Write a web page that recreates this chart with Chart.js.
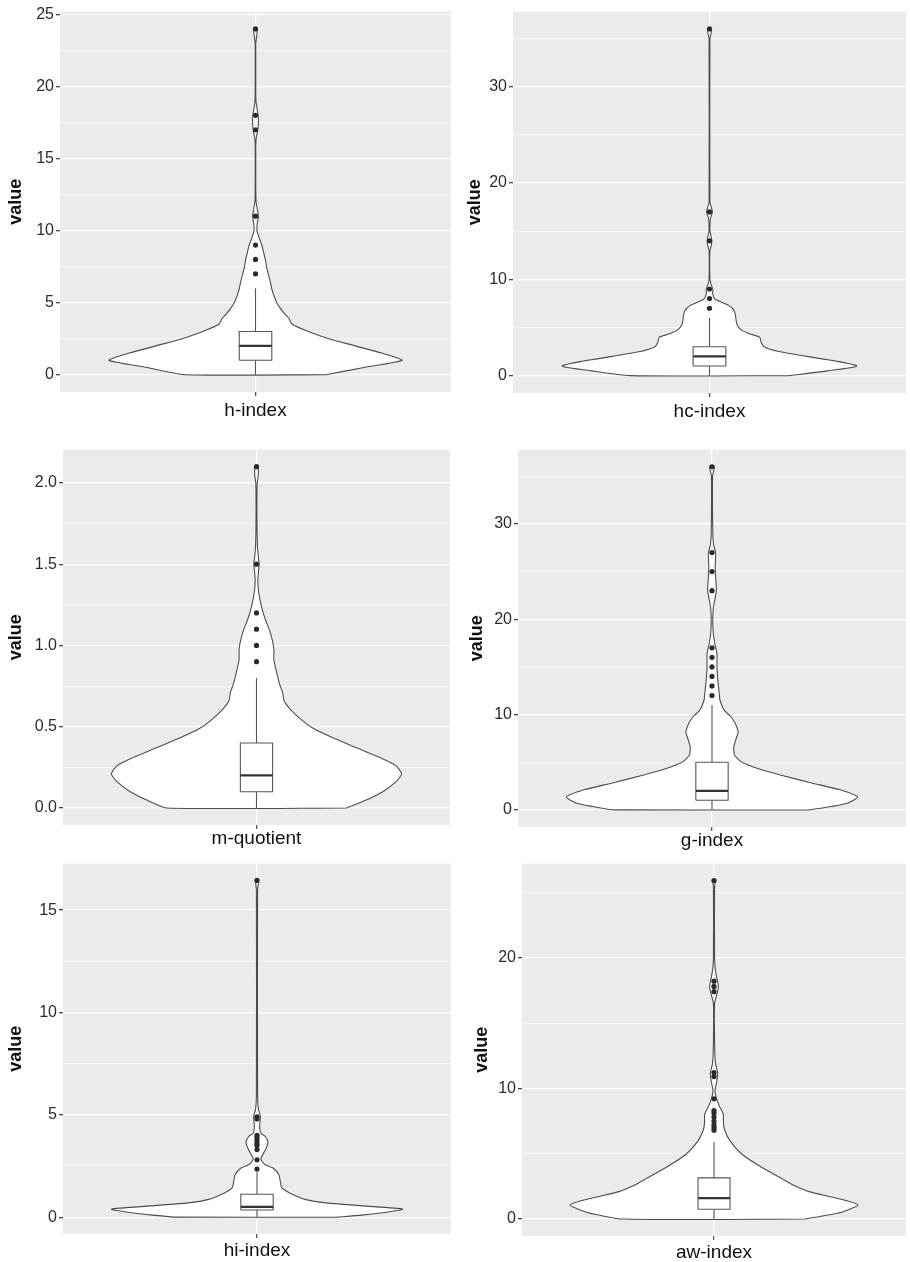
<!DOCTYPE html>
<html>
<head>
<meta charset="utf-8">
<script src="https://cdn.jsdelivr.net/npm/chart.js@4.4.1/dist/chart.umd.min.js"></script>
<style>
  html, body { margin: 0; padding: 0; background: #fff; }
  body { width: 910px; height: 1262px; position: relative; overflow: hidden; }
  canvas { position: absolute; }
</style>
</head>
<body>
<canvas id="c0"></canvas>
<canvas id="c1"></canvas>
<canvas id="c2"></canvas>
<canvas id="c3"></canvas>
<canvas id="c4"></canvas>
<canvas id="c5"></canvas>
<script>
const categories = ['h-index', 'hc-index', 'm-quotient', 'g-index', 'hi-index', 'aw-index'];

// violin outline: value and relative half width (1 = widest)
const hIndexY = [0, 0.5, 1.0, 1.5, 2.0, 2.5, 3.0, 3.5, 3.9, 4.2, 4.6, 5.0, 5.5, 6.0, 6.5, 7.0, 7.5, 8.0, 8.5, 9.0, 9.5, 10.0, 10.5, 11.0, 11.5, 12.0, 13, 14, 15, 16, 16.5, 17.0, 17.5, 18.0, 18.5, 19.0, 20, 21, 22, 23, 23.5, 24];
const hIndexW = [0.48, 0.74, 1.0, 0.86, 0.68, 0.5, 0.36, 0.25, 0.228, 0.2, 0.17, 0.145, 0.125, 0.11, 0.1, 0.087, 0.075, 0.067, 0.055, 0.043, 0.025, 0.01, 0.012, 0.02, 0.012, 0.004, 0.002, 0.002, 0.002, 0.002, 0.006, 0.016, 0.02, 0.018, 0.01, 0.003, 0.002, 0.002, 0.002, 0.002, 0.008, 0.012];
const hIndexBox = [0, 1, 2, 3, 6];
const hIndexOutliers = [7, 8, 9, 11, 17, 18, 24];
const hIndexTicks = [0, 5, 10, 15, 20, 25];

const hcIndexY = [0, 0.5, 1.0, 1.5, 2.0, 2.5, 3.0, 3.5, 4.0, 4.3, 4.7, 5.2, 5.8, 6.4, 6.9, 7.3, 7.7, 8.0, 8.5, 9.0, 9.5, 10, 13, 13.5, 14, 14.5, 15, 16.3, 17, 17.6, 18, 35, 35.5, 36];
const hcIndexW = [0.54, 0.8, 1.0, 0.86, 0.66, 0.47, 0.37, 0.35, 0.34, 0.28, 0.22, 0.19, 0.18, 0.175, 0.16, 0.13, 0.07, 0.035, 0.022, 0.022, 0.01, 0.003, 0.003, 0.012, 0.016, 0.01, 0.003, 0.006, 0.02, 0.01, 0.003, 0.003, 0.01, 0.012];
const hcIndexBox = [0, 1, 2, 3, 6];
const hcIndexOutliers = [7, 8, 9, 14, 17, 36];
const hcIndexTicks = [0, 10, 20, 30];

const mQuotientY = [0, 0.05, 0.1, 0.16, 0.21, 0.26, 0.31, 0.37, 0.43, 0.49, 0.55, 0.61, 0.66, 0.71, 0.76, 0.83, 0.91, 0.97, 1.03, 1.1, 1.15, 1.2, 1.25, 1.3, 1.35, 1.4, 1.45, 1.5, 1.55, 1.6, 1.7, 1.8, 1.9, 2.0, 2.05, 2.1];
const mQuotientW = [0.62, 0.76, 0.87, 0.96, 1.0, 0.96, 0.85, 0.69, 0.53, 0.39, 0.30, 0.23, 0.19, 0.18, 0.16, 0.14, 0.12, 0.12, 0.11, 0.087, 0.065, 0.046, 0.032, 0.02, 0.012, 0.009, 0.013, 0.018, 0.012, 0.007, 0.004, 0.003, 0.003, 0.005, 0.012, 0.01];
const mQuotientBox = [0, 0.1, 0.2, 0.4, 0.8];
const mQuotientOutliers = [0.9, 1.0, 1.1, 1.2, 1.5, 2.1];
const mQuotientTicks = [0, 0.5, 1.0, 1.5, 2.0];

const gIndexY = [0, 0.35, 0.7, 1.35, 2.1, 2.8, 3.66, 4.36, 5.06, 5.76, 6.63, 7.67, 8.2, 9.07, 9.77, 10.46, 11.5, 12.2, 13.6, 15.0, 16.4, 17.4, 18.5, 19.9, 21.3, 23, 24.4, 25.5, 26.9, 27.9, 29.3, 35, 35.6, 36];
const gIndexW = [0.67, 0.82, 0.93, 1.0, 0.88, 0.69, 0.47, 0.31, 0.2, 0.155, 0.15, 0.17, 0.18, 0.16, 0.13, 0.083, 0.055, 0.05, 0.04, 0.034, 0.034, 0.02, 0.009, 0.005, 0.01, 0.03, 0.025, 0.022, 0.025, 0.01, 0.005, 0.004, 0.012, 0.015];
const gIndexBox = [0, 1, 2, 5, 11];
const gIndexOutliers = [12, 13, 14, 15, 16, 17, 23, 25, 27, 36];
const gIndexTicks = [0, 10, 20, 30];

const hiIndexY = [0, 0.1, 0.25, 0.39, 0.55, 0.71, 0.87, 1.03, 1.19, 1.44, 1.76, 2.08, 2.4, 2.56, 2.73, 2.89, 3.13, 3.45, 3.69, 3.94, 4.1, 4.42, 4.9, 5.3, 6, 16, 16.45];
const hiIndexW = [0.55, 0.72, 0.9, 1.0, 0.73, 0.46, 0.33, 0.27, 0.22, 0.17, 0.16, 0.15, 0.11, 0.057, 0.034, 0.027, 0.046, 0.068, 0.075, 0.057, 0.027, 0.018, 0.023, 0.009, 0.004, 0.004, 0.01];
const hiIndexBox = [0, 0.35, 0.5, 1.12, 2.2];
const hiIndexOutliers = [2.35, 2.8, 3.3, 3.5, 3.6, 3.75, 3.9, 4.0, 4.8, 4.9, 16.45];
const hiIndexTicks = [0, 5, 10, 15];

const awIndexY = [0, 0.5, 1.09, 1.6, 2.1, 2.6, 3.1, 4.0, 5.0, 6.0, 6.8, 7.3, 8.05, 8.55, 9.2, 9.8, 10.6, 11.2, 11.85, 12.9, 16.5, 17.4, 17.9, 18.4, 19.2, 20, 25.5, 25.9];
const awIndexW = [0.63, 0.88, 1.0, 0.85, 0.66, 0.55, 0.47, 0.325, 0.19, 0.11, 0.075, 0.066, 0.064, 0.041, 0.018, 0.007, 0.02, 0.025, 0.011, 0.005, 0.004, 0.025, 0.03, 0.02, 0.008, 0.004, 0.004, 0.012];
const awIndexBox = [0, 0.75, 1.6, 3.15, 5.9];
const awIndexOutliers = [6.8, 7.0, 7.2, 7.5, 7.8, 8.1, 8.3, 9.2, 10.9, 11.2, 17.4, 17.8, 18.2, 25.9];
const awIndexTicks = [0, 10, 20];

const tickDecimals = [0, 0, 1, 0, 0, 0];

const allY = [hIndexY, hcIndexY, mQuotientY, gIndexY, hiIndexY, awIndexY];
const allW = [hIndexW, hcIndexW, mQuotientW, gIndexW, hiIndexW, awIndexW];
const allBox = [hIndexBox, hcIndexBox, mQuotientBox, gIndexBox, hiIndexBox, awIndexBox];
const allOutliers = [hIndexOutliers, hcIndexOutliers, mQuotientOutliers, gIndexOutliers, hiIndexOutliers, awIndexOutliers];
const allTicks = [hIndexTicks, hcIndexTicks, mQuotientTicks, gIndexTicks, hiIndexTicks, awIndexTicks];

// page layout: column left, plot left, plot right, plot top, plot bottom, y title offset, x label padding
const panelLayout = [
    [0, 60, 453, 10, 392, 7.5, 3],
    [455, 513, 910, 10, 393, 11.5, 3],
    [0, 63, 450, 448, 825, 7.5, -1.5],
    [455, 518, 910, 448, 827, 13.5, -1.5],
    [0, 63, 453, 862, 1234, 7.5, 1.5],
    [455, 522, 910, 862, 1236, 18.5, 1.5]
];

const VIOLIN_HALF = 0.45;
const BOX_HALF = 0.05;
const X_AXIS_H = 40;

const fondoGris = {
    id: 'fondoGris',
    beforeDraw(chart) {
        const a = chart.chartArea;
        const ctx = chart.ctx;
        ctx.save();
        ctx.fillStyle = '#ebebeb';
        ctx.fillRect(a.left, a.top, a.right - a.left, a.bottom - a.top);
        ctx.restore();
    }
};

function crearPanel(i) {
    const [colLeft, plotL, plotR, plotT, plotB, titleOff, labelPad] = panelLayout[i];
    const canvas = document.getElementById('c' + i);
    const w = 455;
    const h = (plotB - plotT) + 10 + X_AXIS_H;
    canvas.width = w;
    canvas.height = h;
    canvas.style.left = colLeft + 'px';
    canvas.style.top = (plotT - 10) + 'px';

    const ys = allY[i];
    const ws = allW[i];
    const box = allBox[i];
    const majors = allTicks[i];
    const dataMax = ys[ys.length - 1];
    const pad = dataMax * 0.05;

    // minor ticks halfway between majors
    const step = majors[1] - majors[0];
    const yTicks = [];
    majors.forEach(v => {
        yTicks.push(v);
        if (v + step / 2 <= dataMax + pad) yTicks.push(v + step / 2);
    });

    // outline: right side going up, left side coming down
    const right = ys.map((y, k) => ({ x: 1 + VIOLIN_HALF * ws[k], y: y }));
    const left = ys.map((y, k) => ({ x: 1 - VIOLIN_HALF * ws[k], y: y })).reverse();
    const violin = right.concat(left, [right[0]]);

    const boxPts = [
        { x: 1 - BOX_HALF, y: box[1] }, { x: 1 + BOX_HALF, y: box[1] },
        { x: 1 + BOX_HALF, y: box[3] }, { x: 1 - BOX_HALF, y: box[3] },
        { x: 1 - BOX_HALF, y: box[1] }
    ];

    new Chart(canvas, {
        type: 'line',
        data: {
            datasets: [
                {
                    data: allOutliers[i].map(v => ({ x: 1, y: v })),
                    showLine: false,
                    pointRadius: 2.6,
                    pointBackgroundColor: '#2a2a2a',
                    pointBorderWidth: 0,
                    order: 1
                },
                {
                    data: [{ x: 1 - BOX_HALF, y: box[2] }, { x: 1 + BOX_HALF, y: box[2] }],
                    borderColor: '#333',
                    borderWidth: 2.2,
                    pointRadius: 0,
                    order: 2
                },
                {
                    data: boxPts,
                    borderColor: '#555',
                    borderWidth: 1.1,
                    backgroundColor: '#fff',
                    fill: 'shape',
                    pointRadius: 0,
                    order: 3
                },
                {
                    data: [{ x: 1, y: box[0] }, { x: 1, y: box[1] }, { x: 1, y: null }, { x: 1, y: box[3] }, { x: 1, y: box[4] }],
                    borderColor: '#555',
                    borderWidth: 1.1,
                    pointRadius: 0,
                    spanGaps: false,
                    order: 4
                },
                {
                    data: violin,
                    borderColor: '#4d4d4d',
                    borderWidth: 1.1,
                    backgroundColor: '#fff',
                    fill: 'shape',
                    tension: 0.2,
                    pointRadius: 0,
                    order: 5
                }
            ]
        },
        options: {
            responsive: false,
            animation: false,
            events: [],
            layout: { padding: { top: 10, right: colLeft + w - plotR, left: 0, bottom: 0 } },
            plugins: { legend: { display: false }, tooltip: { enabled: false } },
            scales: {
                x: {
                    type: 'linear',
                    min: 0.4,
                    max: 1.6,
                    afterBuildTicks: s => { s.ticks = [{ value: 1 }]; },
                    afterFit: s => { s.height = X_AXIS_H; },
                    border: { display: false },
                    grid: { color: '#fff', lineWidth: 1.3, tickColor: '#555', tickLength: 4 },
                    ticks: {
                        autoSkip: false,
                        maxRotation: 0,
                        padding: labelPad,
                        color: '#111',
                        font: { family: 'Liberation Sans, Arial, sans-serif', size: 19 },
                        callback: () => categories[i]
                    }
                },
                y: {
                    type: 'linear',
                    min: -pad,
                    max: dataMax + pad,
                    afterBuildTicks: s => { s.ticks = yTicks.map(v => ({ value: v })); },
                    afterFit: s => { s.width = plotL - colLeft; },
                    border: { display: false },
                    grid: {
                        color: '#fff',
                        lineWidth: c => majors.includes(c.tick.value) ? 1.3 : 0.6,
                        tickColor: c => majors.includes(c.tick.value) ? '#444' : 'rgba(0,0,0,0)',
                        tickLength: 4
                    },
                    ticks: {
                        autoSkip: false,
                        padding: 2,
                        color: '#2b2b2b',
                        font: { family: 'Liberation Sans, Arial, sans-serif', size: 16 },
                        callback: v => majors.includes(v) ? v.toFixed(tickDecimals[i]) : ''
                    },
                    title: {
                        display: true,
                        text: 'value',
                        color: '#111',
                        padding: { top: titleOff, bottom: 0 },
                        font: { family: 'Liberation Sans, Arial, sans-serif', size: 18, weight: 'bold', lineHeight: 1 }
                    }
                }
            }
        },
        plugins: [fondoGris]
    });
}

categories.forEach((c, i) => crearPanel(i));
</script>
</body>
</html>
